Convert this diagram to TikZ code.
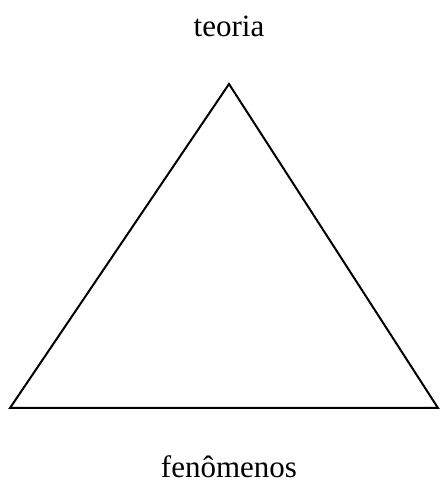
\documentclass[tikz,border=0pt]{standalone}
\usepackage{fontspec}
\setmainfont{Liberation Serif}
\usepackage{tikz}
\usetikzlibrary{positioning}

\begin{document}
\begin{tikzpicture}[x=1pt,y=1pt,label/.style={font=\fontsize{31}{37}\selectfont,anchor=base,inner sep=0pt}]
      \useasboundingbox (0,0) rectangle (439,484);
      \coordinate (top) at (229,400);\coordinate (left) at (10,76);\coordinate (right) at (438,76);
      \draw[line width=2pt,line join=miter] (left) -- (top) -- (right) -- cycle;
      \node[label] (teoria) at (229,447){teoria};\node[label] (fen) at (229,6){fenômenos};
    \end{tikzpicture}
\end{document}
